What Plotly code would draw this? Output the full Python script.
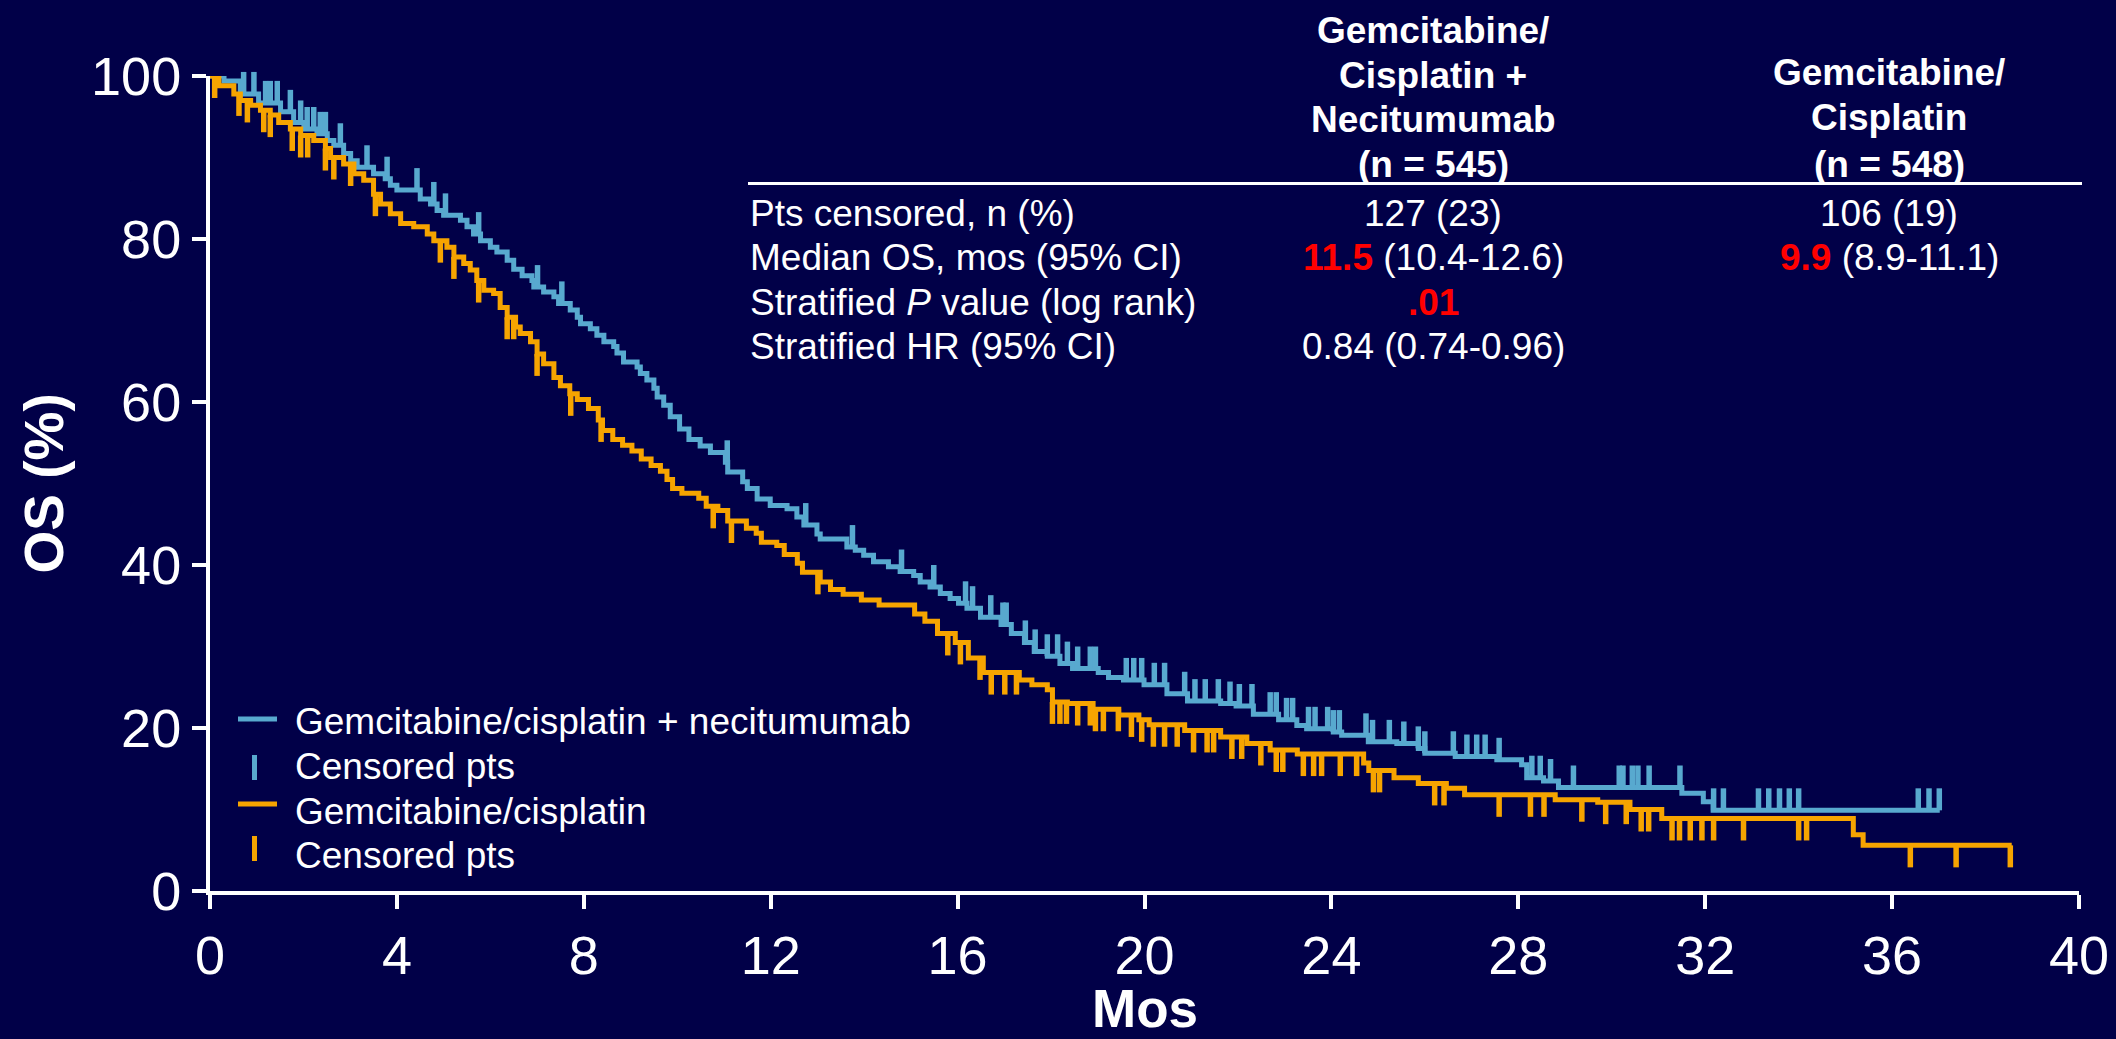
import plotly.graph_objects as go
from bisect import bisect_right

# ---------------------------------------------------------------------------
# Kaplan-Meier overall survival, step times (months) and OS (%) after each drop
# ---------------------------------------------------------------------------
neci_t = [0, 0.30, 0.65, 1.04, 1.51, 1.79, 2.01, 2.29, 2.51, 2.65, 2.86, 3.01, 3.15,
          3.50, 3.75, 3.86, 4.00, 4.50, 4.72, 4.86, 5.00, 5.36, 5.50, 5.64, 5.79, 6.00,
          6.14, 6.36, 6.50, 6.68, 6.89, 6.93, 7.14, 7.36, 7.46, 7.71, 7.86, 7.93, 8.14,
          8.28, 8.43, 8.64, 8.71, 8.85, 9.14, 9.21, 9.35, 9.50, 9.57, 9.71, 9.85, 10.05,
          10.25, 10.49, 10.71, 11.03, 11.08, 11.40, 11.50, 11.71, 11.99, 12.35, 12.56,
          12.71, 12.99, 13.06, 13.63, 13.81, 13.99, 14.20, 14.52, 14.77, 15.06, 15.20,
          15.41, 15.63, 15.84, 16.02, 16.20, 16.49, 16.93, 17.15, 17.43, 17.64, 17.92,
          18.19, 18.46, 19.01, 19.23, 19.55, 19.99, 20.48, 20.92, 21.63, 21.96, 22.33,
          22.87, 23.26, 23.47, 24.04, 24.22, 24.79, 25.40, 25.86, 26.00, 26.65, 27.54,
          28.07, 28.18, 28.54, 28.86, 31.50, 31.96, 32.17]
neci_s = [100, 99.4, 97.8, 96.7, 95.6, 94.3, 93.5, 92.9, 92.1, 91.5, 90.5, 89.6, 88.8,
          88.0, 87.4, 86.6, 86.0, 84.9, 84.3, 83.5, 82.9, 82.3, 81.5, 80.6, 79.8, 79.0,
          78.4, 77.4, 76.3, 75.5, 74.9, 74.1, 73.5, 72.9, 72.1, 71.3, 70.4, 69.6, 69.0,
          68.2, 67.4, 66.8, 66.0, 64.9, 64.3, 63.5, 62.7, 61.7, 60.6, 59.6, 58.2, 56.7,
          55.4, 54.6, 53.8, 52.6, 51.4, 50.2, 49.4, 48.1, 47.3, 46.9, 45.9,
          44.9, 43.8, 43.2, 42.2, 41.8, 41.2, 40.4, 39.8, 39.2, 38.7, 37.9,
          37.3, 36.5, 35.9, 35.3, 34.7, 33.6, 32.7, 31.6, 30.5, 29.4, 28.8,
          27.9, 27.3, 26.8, 26.2, 25.9, 25.3, 24.2, 23.3, 23.0, 22.7, 21.7,
          21.0, 20.3, 19.9, 19.5, 19.1, 18.3, 18.1, 17.5, 16.9, 16.5, 16.1,
          15.5, 13.9, 13.5, 12.7, 12.0, 10.95, 9.9]
neci_end = 37.02
neci_cens = [0.08, 0.72, 0.94, 1.19, 1.29, 1.44, 1.72, 1.94, 2.08, 2.22, 2.36, 2.47, 2.79,
             3.36, 3.79, 4.43, 4.79, 5.04, 5.75, 7.01, 7.53, 11.07, 12.75, 13.75, 14.80,
             15.49, 16.17, 16.32, 16.71, 16.97, 17.04, 17.45, 17.66, 17.92, 18.14, 18.35,
             18.57, 18.84, 18.95, 19.61, 19.77, 19.94, 20.21, 20.43, 20.86, 21.08, 21.30,
             21.58, 21.83, 22.03, 22.30, 22.69, 22.82, 23.04, 23.17, 23.51, 23.65, 23.92,
             24.04, 24.17, 24.74, 24.88, 25.24, 25.55, 25.86, 26.00, 26.61, 26.90, 27.11,
             27.29, 27.59, 28.29, 28.47, 28.69, 29.18, 30.16, 30.24, 30.44, 30.56, 30.80,
             31.46, 32.18, 32.39, 33.14, 33.36, 33.59, 33.80, 34.00, 36.56, 36.79, 37.01]

gc_t = [0, 0.19, 0.51, 0.65, 0.87, 1.08, 1.29, 1.47, 1.72, 1.94, 2.22, 2.47, 2.58, 2.86,
        3.08, 3.29, 3.50, 3.65, 3.86, 4.08, 4.36, 4.65, 4.79, 5.07, 5.22, 5.43, 5.57, 5.71,
        5.86, 6.07, 6.21, 6.36, 6.54, 6.64, 6.86, 7.00, 7.14, 7.36, 7.50, 7.70, 7.86, 8.10,
        8.31, 8.40, 8.62, 8.83, 9.03, 9.23, 9.44, 9.64, 9.78, 9.90, 10.10, 10.46, 10.62,
        10.87, 11.08, 11.48, 11.69, 11.80, 12.13, 12.29, 12.57, 12.68, 13.06, 13.28, 13.55,
        13.94, 14.32, 15.08, 15.30, 15.57, 15.95, 16.23, 16.55, 17.32, 17.59, 17.92, 18.03,
        18.35, 18.90, 19.45, 19.88, 20.10, 20.86, 21.63, 22.19, 22.69, 23.27, 24.69, 24.80,
        25.34, 25.86, 26.46, 26.85, 28.79, 29.70, 30.39, 31.07, 35.17, 35.38]
gc_s = [100, 98.8, 97.8, 97.0, 96.4, 95.8, 95.2, 94.3, 93.5, 92.7, 92.1, 91.1, 90.0, 89.2,
        88.0, 87.2, 85.5, 84.3, 83.1, 81.9, 81.5, 80.6, 79.8, 79.0, 77.8, 77.0, 76.2, 74.9,
        73.7, 73.3, 71.6, 70.4, 69.2, 68.4, 67.4, 65.9, 64.7, 63.0, 62.0, 61.0, 60.3, 59.2,
        57.8, 56.5, 55.4, 54.7, 54.0, 53.0, 52.2, 51.5, 50.5, 49.4, 48.8, 48.2, 47.2,
        46.7, 45.4, 44.5, 43.9, 42.8, 42.4, 41.3, 40.2, 39.1, 37.9, 37.0, 36.4,
        35.7, 35.1, 34.0, 33.1, 31.6, 30.5, 28.6, 26.8, 25.9, 25.3, 24.7, 23.2,
        23.0, 22.3, 21.6, 21.0, 20.4, 19.7, 18.9, 18.1, 17.3, 16.8, 15.7, 14.8,
        13.9, 13.2, 12.6, 11.8, 11.2, 10.9, 10.0, 8.9, 6.9, 5.6]
gc_end = 38.56
gc_cens = [0.10, 0.62, 0.80, 1.15, 1.29, 1.76, 1.94, 2.09, 2.47, 2.65, 3.01, 3.54, 4.93,
           5.22, 5.75, 6.36, 6.50, 7.00, 7.72, 8.37, 10.77, 11.16, 13.01, 15.79, 16.06,
           16.48, 16.72, 17.01, 17.26, 18.03, 18.19, 18.33, 18.57, 18.84, 18.95, 19.12,
           19.44, 19.72, 19.94, 20.19, 20.43, 20.70, 21.05, 21.34, 21.48, 21.87, 22.08,
           22.49, 22.82, 22.96, 23.40, 23.62, 23.79, 24.19, 24.54, 24.90, 25.03, 26.21,
           26.41, 27.59, 28.26, 28.55, 29.36, 29.87, 30.31, 30.63, 30.79, 31.29, 31.45,
           31.68, 31.93, 32.18, 32.82, 34.00, 34.17, 36.39, 37.37, 38.53]

x_ticks = [0, 4, 8, 12, 16, 20, 24, 28, 32, 36, 40]
y_ticks = [0, 20, 40, 60, 80, 100]

legend_labels = ["Gemcitabine/cisplatin + necitumumab", "Censored pts",
                 "Gemcitabine/cisplatin", "Censored pts"]

head_neci = ["Gemcitabine/", "Cisplatin +", "Necitumumab", "(n = 545)"]
head_gc = ["Gemcitabine/", "Cisplatin", "(n = 548)"]
row_labels = ["Pts censored, n (%)", "Median OS, mos (95% CI)",
              "Stratified <i>P</i> value (log rank)", "Stratified HR (95% CI)"]
RED = "#FF0000"
col_neci = ["127 (23)",
            f"<span style='color:{RED}'><b>11.5</b></span> (10.4-12.6)",
            f"<span style='color:{RED}'><b>.01</b></span>",
            "0.84 (0.74-0.96)"]
col_gc = ["106 (19)",
          f"<span style='color:{RED}'><b>9.9</b></span> (8.9-11.1)",
          "", ""]

# ---------------------------------------------------------------------------
# styling / geometry
# ---------------------------------------------------------------------------
W, H = 2116, 1039
ML, MR, MT, MB = 210, 37, 76, 148
BG = "#010048"
BLUE = "#58A9CF"
ORANGE = "#F6A400"
WHITE = "#FFFFFF"
FONT = "Liberation Sans, Arial, sans-serif"
LINE_W = 5
TICK_PX = 22          # length of a censor tick in pixels
PX_PER_PCT = (H - MT - MB) / 100.0


def px_x(X):
    return (X - ML) / (W - ML - MR)


def px_y(Y):
    return (H - MB - Y) / (H - MT - MB)


def level_at(t, ts, ss):
    return ss[bisect_right(ts, t) - 1]


fig = go.Figure()


def add_arm(ts, ss, end, cens, color, upward):
    fig.add_trace(go.Scatter(
        x=ts + [end], y=ss + [ss[-1]], mode="lines",
        line=dict(color=color, width=LINE_W, shape="hv"),
        showlegend=False, hoverinfo="skip"))
    off = (TICK_PX / 2) / PX_PER_PCT * (1 if upward else -1)
    fig.add_trace(go.Scatter(
        x=cens, y=[level_at(c, ts, ss) + off for c in cens], mode="markers",
        marker=dict(symbol="line-ns", size=TICK_PX / 1.4,
                    line=dict(color=color, width=5.5)),
        cliponaxis=False, showlegend=False, hoverinfo="skip"))


add_arm(neci_t, neci_s, neci_end, neci_cens, BLUE, True)
add_arm(gc_t, gc_s, gc_end, gc_cens, ORANGE, False)

shapes = []
annotations = []

# legend drawn in the lower-left corner of the plot
leg_rows_y = [721, 766, 811, 855]
leg_sym = [("line", BLUE, 719), ("bar", BLUE, 767.5), ("line", ORANGE, 804), ("bar", ORANGE, 848.5)]
for (kind, col, yc), label, ty in zip(leg_sym, legend_labels, leg_rows_y):
    if kind == "line":
        shapes.append(dict(type="line", xref="paper", yref="paper",
                           x0=px_x(238), x1=px_x(277), y0=px_y(yc), y1=px_y(yc),
                           line=dict(color=col, width=5)))
    else:
        shapes.append(dict(type="line", xref="paper", yref="paper",
                           x0=px_x(254.5), x1=px_x(254.5),
                           y0=px_y(yc - 12.5), y1=px_y(yc + 12.5),
                           line=dict(color=col, width=5)))
    annotations.append(dict(text=label, xref="paper", yref="paper",
                            x=px_x(293), y=px_y(ty), xanchor="left", yanchor="middle",
                            showarrow=False, font=dict(family=FONT, size=37, color=WHITE)))

# summary table
COL1_X, COL2_X, LABEL_X = 1433, 1889, 748
for txt, y in zip(head_neci, [30, 75, 119.5, 164]):
    annotations.append(dict(text=f"<b>{txt}</b>", xref="paper", yref="paper",
                            x=px_x(COL1_X), y=px_y(y), xanchor="center", yanchor="middle",
                            showarrow=False, font=dict(family=FONT, size=37, color=WHITE)))
for txt, y in zip(head_gc, [72, 117, 164]):
    annotations.append(dict(text=f"<b>{txt}</b>", xref="paper", yref="paper",
                            x=px_x(COL2_X), y=px_y(y), xanchor="center", yanchor="middle",
                            showarrow=False, font=dict(family=FONT, size=37, color=WHITE)))
shapes.append(dict(type="line", xref="paper", yref="paper",
                   x0=px_x(748), x1=px_x(2082), y0=px_y(183.5), y1=px_y(183.5),
                   line=dict(color=WHITE, width=3)))
row_y = [213, 257, 302, 346]
for lab, v1, v2, y in zip(row_labels, col_neci, col_gc, row_y):
    annotations.append(dict(text=lab, xref="paper", yref="paper",
                            x=px_x(LABEL_X), y=px_y(y), xanchor="left", yanchor="middle",
                            showarrow=False, font=dict(family=FONT, size=37, color=WHITE)))
    for v, cx in ((v1, COL1_X), (v2, COL2_X)):
        if v:
            annotations.append(dict(text=v, xref="paper", yref="paper",
                                    x=px_x(cx), y=px_y(y), xanchor="center",
                                    yanchor="middle", showarrow=False,
                                    font=dict(family=FONT, size=37, color=WHITE)))

# axis titles
annotations.append(dict(text="<b>OS (%)</b>", xref="paper", yref="paper",
                        x=px_x(43), y=0.5, xanchor="center", yanchor="middle",
                        textangle=-90, showarrow=False,
                        font=dict(family=FONT, size=55, color=WHITE)))
annotations.append(dict(text="<b>Mos</b>", xref="paper", yref="paper",
                        x=0.5, y=px_y(1008), xanchor="center", yanchor="middle",
                        showarrow=False, font=dict(family=FONT, size=53, color=WHITE)))

axis_common = dict(showgrid=False, zeroline=False, showline=True, linecolor=WHITE,
                   linewidth=4, ticks="outside", ticklen=14, tickwidth=4,
                   tickcolor=WHITE, tickfont=dict(family=FONT, size=54, color=WHITE))

fig.update_layout(
    width=W, height=H,
    margin=dict(l=ML, r=MR, t=MT, b=MB, autoexpand=False),
    paper_bgcolor=BG, plot_bgcolor=BG,
    showlegend=False,
    xaxis=dict(range=[0, 40], tickvals=x_ticks, **axis_common),
    yaxis=dict(range=[0, 100], tickvals=y_ticks, **axis_common),
    shapes=shapes, annotations=annotations,
)

fig.write_html("out.html")
